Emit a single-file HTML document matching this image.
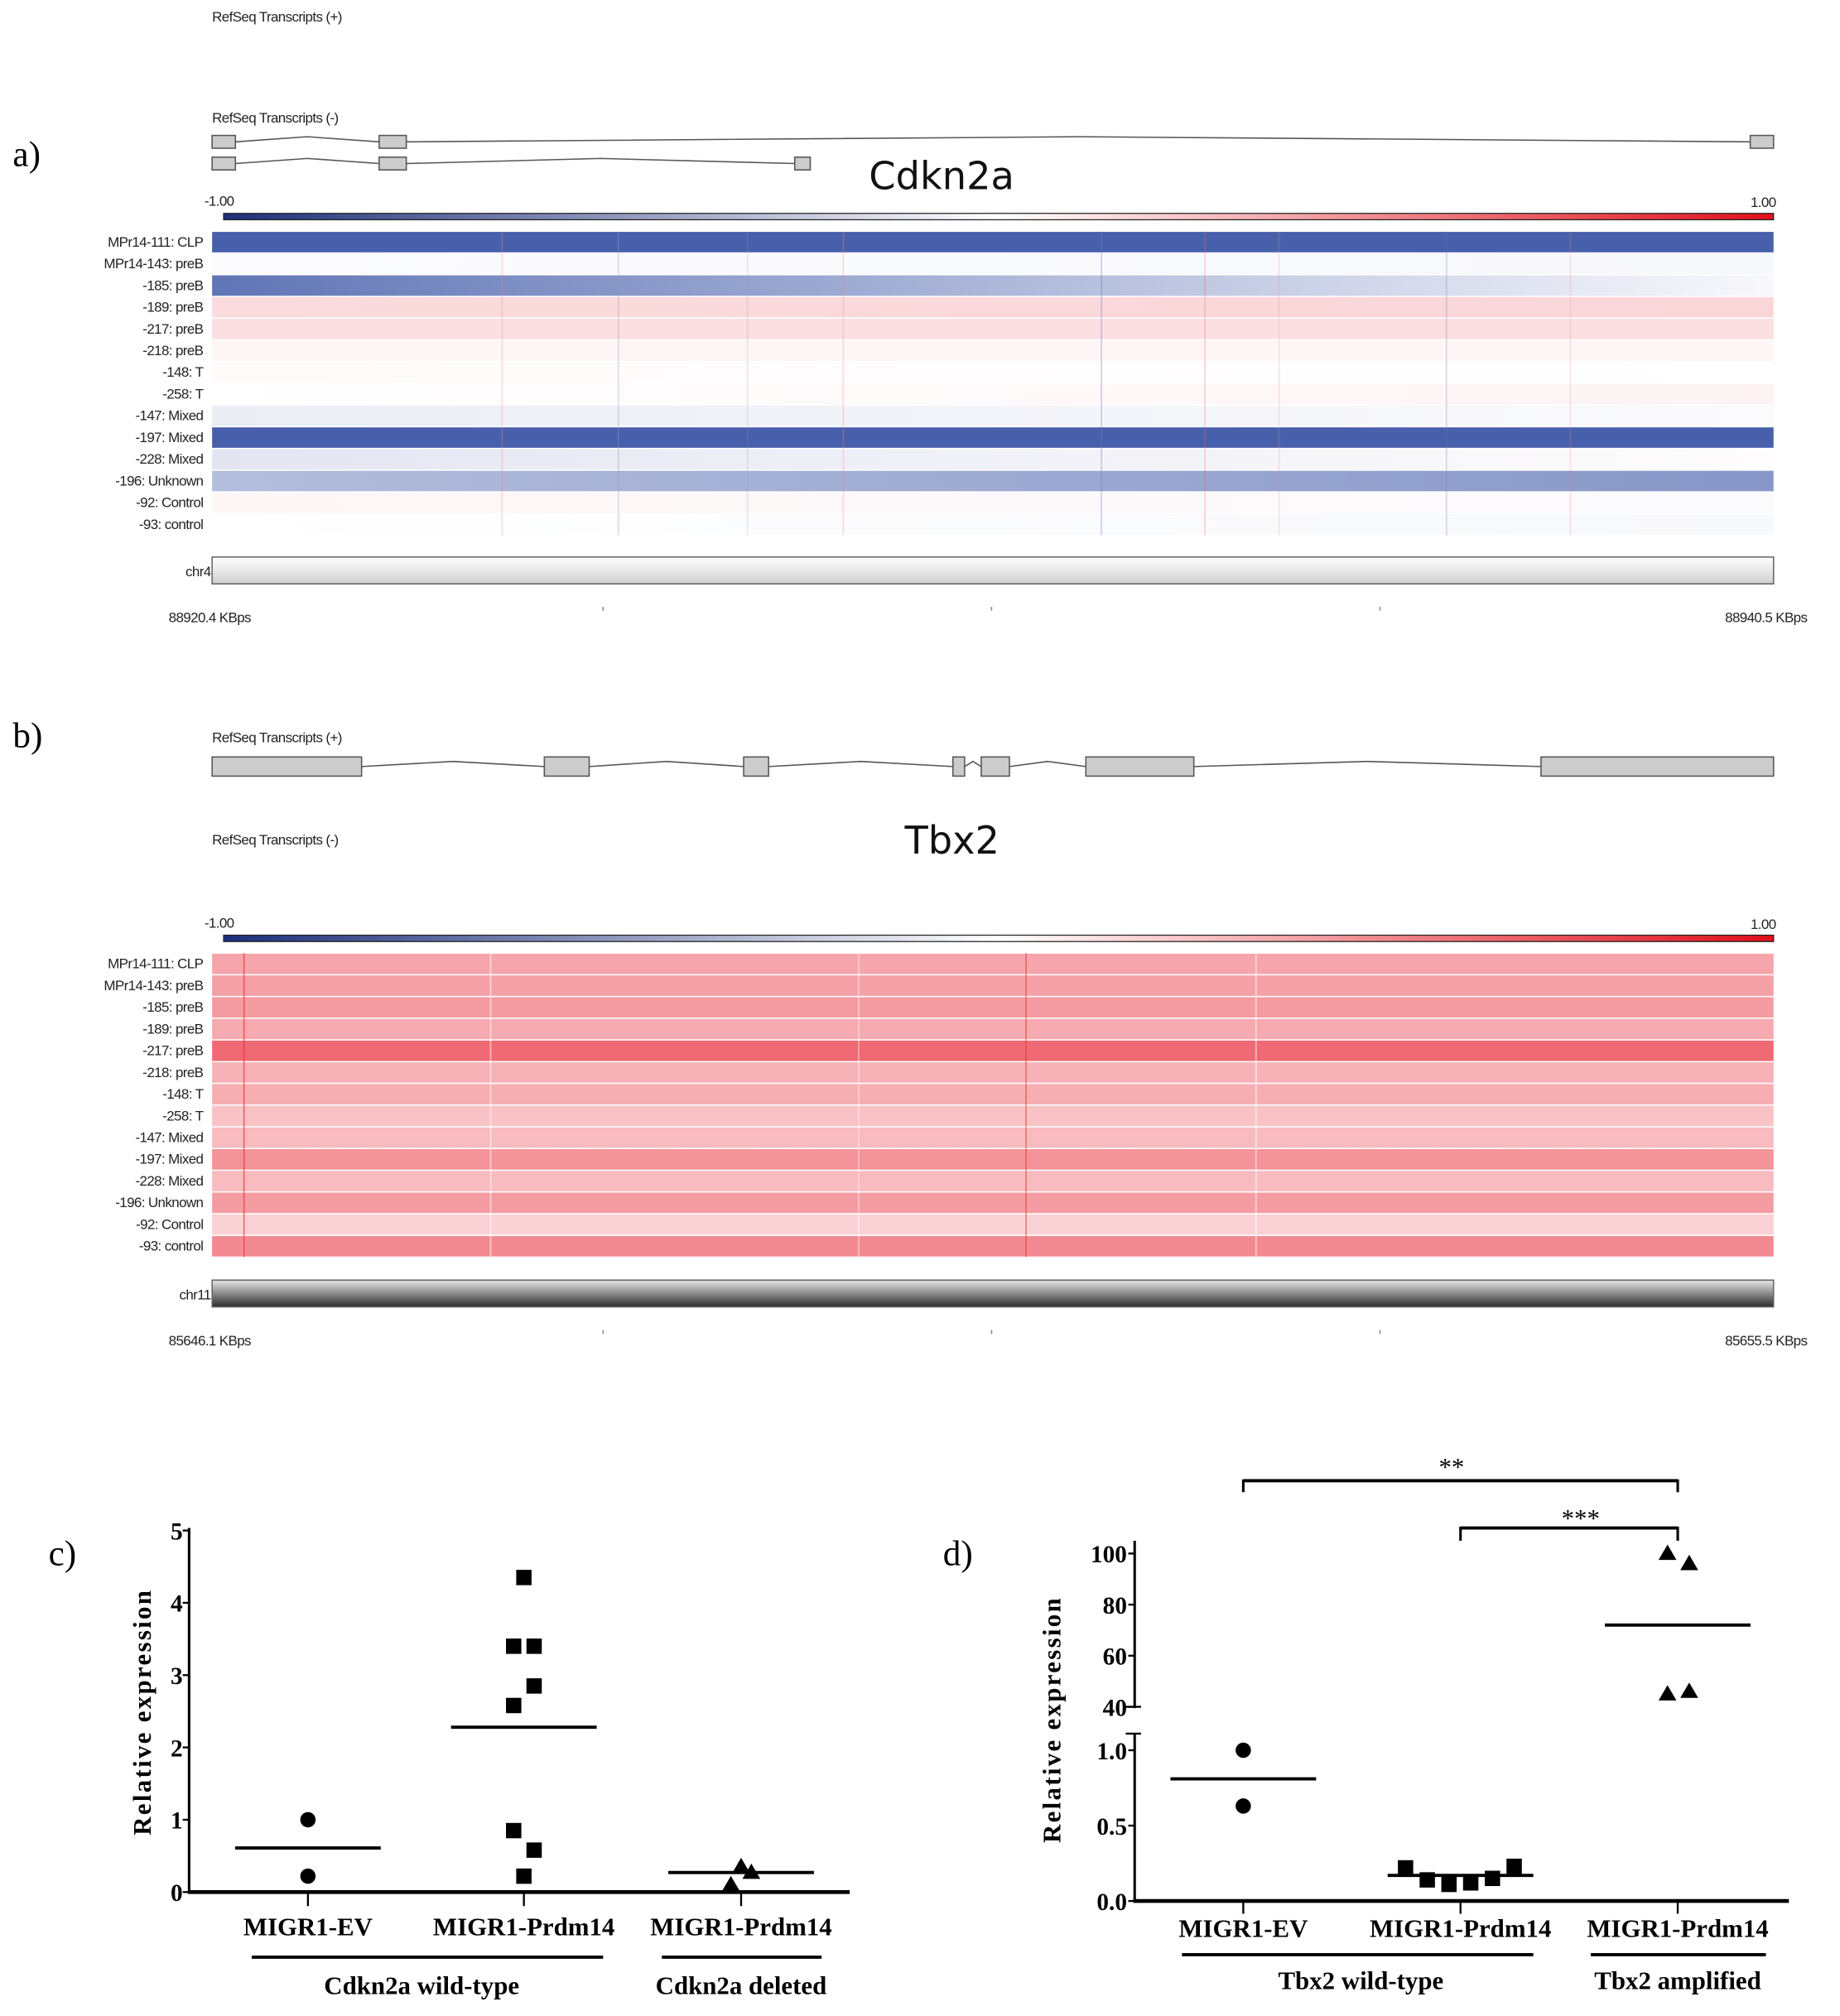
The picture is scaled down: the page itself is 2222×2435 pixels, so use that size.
<!DOCTYPE html>
<html><head><meta charset="utf-8"><style>
html,body{margin:0;padding:0;background:#fff;}
svg{display:block;}
.sm{font-family:"Liberation Sans",sans-serif;font-size:11px;fill:#222;letter-spacing:-0.4px;}
.ser{font-family:"Liberation Serif",serif;fill:#000;}
</style></head><body>
<svg id="fig" xmlns="http://www.w3.org/2000/svg" width="2222" height="2435" viewBox="0 0 1440 1578">
<defs>
<linearGradient id="cbar" x1="0" x2="1"><stop offset="0" stop-color="#1c2f7a"/><stop offset="0.5" stop-color="#ffffff"/><stop offset="1" stop-color="#e0101a"/></linearGradient>
<linearGradient id="chr4g" x1="0" y1="0" x2="0" y2="1"><stop offset="0" stop-color="#ffffff"/><stop offset="1" stop-color="#cfcfcf"/></linearGradient>
<linearGradient id="chr11g" x1="0" y1="0" x2="0" y2="1"><stop offset="0" stop-color="#e8e8e8"/><stop offset="0.5" stop-color="#8a8a8a"/><stop offset="1" stop-color="#2a2a2a"/></linearGradient>
</defs>
<g id="panelA"></g>
<g id="panelB"></g>
<g id="panelC"></g>
<g id="panelD"></g>
</svg>
<script>
// ---- data ----
const sampleLabels = ["MPr14-111: CLP","MPr14-143: preB","-185: preB","-189: preB","-217: preB","-218: preB","-148: T","-258: T","-147: Mixed","-197: Mixed","-228: Mixed","-196: Unknown","-92: Control","-93: control"];
// Cdkn2a log-ratio values at left and right ends of each row (-1..1)
const cdknLeft  = [-0.92,-0.02,-0.80,0.16,0.14,0.04,0.02,0.0,-0.10,-0.92,-0.14,-0.38,0.04,0.0];
const cdknRight = [-0.92,-0.04,-0.03,0.18,0.14,0.04,0.0,0.05,-0.02,-0.92,0.01,-0.60,-0.02,-0.04];
// Tbx2 log-ratio values per row
const tbxVals = [0.40,0.42,0.44,0.38,0.66,0.34,0.36,0.27,0.30,0.48,0.30,0.44,0.20,0.52];
const cdknExonsTop = [[88920.4,88920.7],[88922.55,88922.9],[88940.2,88940.5]];
const cdknExonsBot = [[88920.4,88920.7],[88922.55,88922.9],[88927.9,88928.1]];
const tbxExons = [[85646.1,85647.0],[85648.1,85648.37],[85649.3,85649.45],[85650.56,85650.63],[85650.73,85650.9],[85651.36,85652.01],[85654.1,85655.5]];
// panel c
const cCats = ["MIGR1-EV","MIGR1-Prdm14","MIGR1-Prdm14"];
const cEV = [1.0,0.22];
const cPrdm = [4.35,3.4,3.4,2.85,2.58,0.85,0.58,0.22];
const cDel = [0.35,0.27,0.1];
const cMeans = [0.61,2.28,0.27];
const cTicks = [0,1,2,3,4,5];
// panel d
const dEV = [1.0,0.63];
const dPrdm = [0.22,0.14,0.11,0.12,0.15,0.23];
const dAmp = [100,96,45,46];
const dMeans = [0.81,0.17,72];
const dTicksHi = [40,60,80,100];
const dTicksLo = ["0.0","0.5","1.0"];

const NS="http://www.w3.org/2000/svg";
function mk(p,tag,at,txt){const e=document.createElementNS(NS,tag);for(const k in at)e.setAttribute(k,at[k]);if(txt!==undefined)e.textContent=txt;p.appendChild(e);return e;}
function col(v){ // -1 blue, 0 white, 1 red
  let r,g,b; if(v<0){const t=-v;r=255+(57-255)*t;g=255+(83-255)*t;b=255+(164-255)*t;}else{const t=v;r=255+(232-255)*t;g=255+(30-255)*t;b=255+(45-255)*t;}
  return `rgb(${r|0},${g|0},${b|0})`;}
const X0=166,X1=1388;

function genome(g,opts){
  const sx=v=>X0+(v-opts.start)/(opts.end-opts.start)*(X1-X0);
  let t=mk(g,'text',{x:166,y:opts.plusY,class:'sm'},'RefSeq Transcripts (+)');
  
  t=mk(g,'text',{x:166,y:opts.minusY,class:'sm'},'RefSeq Transcripts (-)');
  
  opts.tracks.forEach(tr=>{
    const ex=tr.exons;
    for(let i=0;i<ex.length-1;i++){const a=sx(ex[i][1]),b=sx(ex[i+1][0]);
      const l=mk(g,'polyline',{points:`${a},${tr.y} ${(a+b)/2},${tr.y-tr.bump} ${b},${tr.y}`,fill:'none',stroke:'#555','stroke-width':1});
      }
    ex.forEach(e=>{const r=mk(g,'rect',{x:sx(e[0]),y:tr.y-tr.h/2,width:Math.max(sx(e[1])-sx(e[0]),8),height:tr.h,fill:'#cccccc',stroke:'#555','stroke-width':1});
      });
  });
  t=mk(g,'text',{x:opts.geneX,y:opts.geneY,'font-family':'"DejaVu Sans",sans-serif','font-size':30,fill:'#111'},opts.gene);
  
  t=mk(g,'text',{x:160,y:opts.barY-6,class:'sm'},'-1.00');
  t=mk(g,'text',{x:1370,y:opts.barY-5,class:'sm'},'1.00');
  let r=mk(g,'rect',{x:175,y:opts.barY,width:1213,height:5,fill:'url(#cbar)',stroke:'#222','stroke-width':0.8});
  
  const top=opts.hmTop,rh=17;
  sampleLabels.forEach((lab,i)=>{
    const y=top+i*rh;
    const id='hg'+opts.key+i;
    const lg=mk(g,'linearGradient',{id:id,x1:0,x2:1});
    mk(lg,'stop',{offset:0,'stop-color':col(opts.left[i])});mk(lg,'stop',{offset:1,'stop-color':col(opts.right[i])});
    const c=mk(g,'rect',{x:X0,y:y+0.5,width:X1-X0,height:rh-1,fill:`url(#${id})`});
    
    const tl=mk(g,'text',{x:159,y:y+12,class:'sm','text-anchor':'end'},lab);
    
  });
  opts.vlines.forEach(v=>{const l=mk(g,'line',{x1:v[0],x2:v[0],y1:top,y2:top+rh*14,stroke:v[1],'stroke-width':1.2,opacity:v[2]});
    });
  r=mk(g,'rect',{x:X0,y:opts.chrY,width:X1-X0,height:21,fill:opts.chrFill,stroke:'#666','stroke-width':1});
  
  t=mk(g,'text',{x:X0-1,y:opts.chrY+15,class:'sm','text-anchor':'end'},opts.chr);
  [472,776,1080].forEach(x=>{const l=mk(g,'line',{x1:x,x2:x,y1:opts.chrY+39,y2:opts.chrY+42,stroke:'#888'});});
  t=mk(g,'text',{x:132,y:opts.chrY+51,class:'sm'},opts.startLab);
  t=mk(g,'text',{x:1350,y:opts.chrY+51,class:'sm'},opts.endLab);
  t=mk(g,'text',{x:10,y:opts.letterY,class:'ser','font-size':28},opts.letter);
}

genome(document.getElementById('panelA'),{key:'a',start:88920.4,end:88940.5,plusY:17,minusY:96,
  tracks:[{exons:cdknExonsTop,y:111,h:10,bump:4},{exons:cdknExonsBot,y:128,h:10,bump:4}],
  gene:'Cdkn2a',geneX:680,geneY:148,barY:167,hmTop:181,left:cdknLeft,right:cdknRight,
  vlines:[[393,'#e88',0.25],[484,'#99b',0.3],[585,'#99b',0.2],[660,'#e88',0.25],[862,'#77a',0.3],[943,'#e66',0.25],[1001,'#e88',0.2],[1132,'#77a',0.25],[1229,'#e88',0.2]],
  chrY:436,chrFill:'url(#chr4g)',chr:'chr4',startLab:'88920.4 KBps',endLab:'88940.5 KBps',letter:'a)',letterY:130});
genome(document.getElementById('panelB'),{key:'b',start:85646.1,end:85655.5,plusY:581,minusY:661,
  tracks:[{exons:tbxExons,y:600,h:15,bump:4}],
  gene:'Tbx2',geneX:708,geneY:668,barY:732,hmTop:746,left:tbxVals,right:tbxVals,
  vlines:[[191,'#e33',0.6],[384,'#fff',0.5],[672,'#fff',0.4],[803,'#e33',0.5],[983,'#fff',0.5]],
  chrY:1002,chrFill:'url(#chr11g)',chr:'chr11',startLab:'85646.1 KBps',endLab:'85655.5 KBps',letter:'b)',letterY:585});

// ---- dot plots ----
function marker(g,shape,x,y){
  let e;
  if(shape==='circle')e=mk(g,'circle',{cx:x,cy:y,r:6,fill:'#000'});
  else if(shape==='square')e=mk(g,'rect',{x:x-6,y:y-6,width:12,height:12,fill:'#000'});
  else e=mk(g,'polygon',{points:`${x},${y-7} ${x+7},${y+5} ${x-7},${y+5}`,fill:'#000'});
  
}
function meanLine(g,x,y){const l=mk(g,'line',{x1:x-57,x2:x+57,y1:y,y2:y,stroke:'#000','stroke-width':2.5});
  }
function txt(g,x,y,s,size,anchor,name,extra){const t=mk(g,'text',Object.assign({x:x,y:y,class:'ser','font-size':size,'text-anchor':anchor,'font-weight':'bold'},extra||{}),s);
  return t;}
function hline(g,x1,x2,y,w,name){const l=mk(g,'line',{x1:x1,x2:x2,y1:y,y2:y,stroke:'#000','stroke-width':w});}
function vline(g,x,y1,y2,w,name){const l=mk(g,'line',{x1:x,x2:x,y1:y1,y2:y2,stroke:'#000','stroke-width':w});}

(function(){
  const g=document.getElementById('panelC');
  const ys=v=>1481-v*56.6; const cx=[241,410,580];
  txt(g,38,1225,'c)',28,'start','panel-letter',{'font-weight':'normal'});
  vline(g,148,1196,1482,2,'y-axis');hline(g,147,665,1481,3,'x-axis');
  cTicks.forEach(v=>{hline(g,143,148,ys(v),1.5,'y-tick');txt(g,143,ys(v)+7,String(v),19,'end','y-tick-label');});
  txt(g,0,0,'Relative expression',20,'middle','y-axis-title',{transform:'translate(118,1340) rotate(-90)','letter-spacing':'1.5'});
  cx.forEach((x,i)=>{vline(g,x,1481,1492,1.5,'x-tick');txt(g,x,1515,cCats[i],20,'middle','category-label');});
  cEV.forEach(v=>marker(g,'circle',cx[0],ys(v)));
  const po=[0,-8,8,8,-8,-8,8,0];cPrdm.forEach((v,i)=>marker(g,'square',cx[1]+po[i],ys(v)));
  const dO=[0,8,-8];cDel.forEach((v,i)=>marker(g,'triangle',cx[2]+dO[i],ys(v)));
  cMeans.forEach((m,i)=>meanLine(g,cx[i],ys(m)));
  hline(g,197,472,1532,2.5,'group-line');hline(g,518,643,1532,2.5,'group-line');
  txt(g,330,1561,'Cdkn2a wild-type',20,'middle','group-label');txt(g,580,1561,'Cdkn2a deleted',20,'middle','group-label');
})();
(function(){
  const g=document.getElementById('panelD');
  const yHi=v=>1336-(v-40)*2, yLo=v=>1488-v*118; const cx=[973,1143,1313];
  txt(g,738,1225,'d)',28,'start','panel-letter',{'font-weight':'normal'});
  vline(g,888,1206,1337,2,'y-axis-upper');vline(g,888,1357,1489,2,'y-axis-lower');
  hline(g,881,893,1336,1.5,'axis-break');hline(g,881,893,1357,1.5,'axis-break');
  hline(g,887,1400,1488,3,'x-axis');
  dTicksHi.forEach(v=>{hline(g,883,888,yHi(v),1.5,'y-tick');txt(g,882,yHi(v)+7,String(v),19,'end','y-tick-label');});
  dTicksLo.forEach(s=>{const v=parseFloat(s);hline(g,883,888,yLo(v),1.5,'y-tick');txt(g,882,yLo(v)+7,s,19,'end','y-tick-label');});
  txt(g,0,0,'Relative expression',20,'middle','y-axis-title',{transform:'translate(830,1346) rotate(-90)','letter-spacing':'1.5'});
  cx.forEach((x,i)=>{vline(g,x,1488,1498,1.5,'x-tick');txt(g,x,1516,cCats[i],20,'middle','category-label');});
  dEV.forEach(v=>marker(g,'circle',cx[0],yLo(v)));
  dPrdm.forEach((v,i)=>marker(g,'square',1100+i*17,yLo(v)));
  const ao=[-8,9,-8,9];dAmp.forEach((v,i)=>marker(g,'triangle',cx[2]+ao[i],yHi(v)));
  meanLine(g,cx[0],yLo(dMeans[0]));meanLine(g,cx[1],yLo(dMeans[1]));meanLine(g,cx[2],yHi(dMeans[2]));
  hline(g,973,1313,1159,2.5,'bracket-ev-amp');vline(g,973,1158,1168,2,'bracket-ev-amp');vline(g,1313,1158,1168,2,'bracket-ev-amp');
  txt(g,1136,1155,'**',20,'middle','significance-label',{'font-weight':'normal'});
  hline(g,1143,1313,1196,2.5,'bracket-prdm-amp');vline(g,1143,1195,1206,2,'bracket-prdm-amp');vline(g,1313,1195,1206,2,'bracket-prdm-amp');
  txt(g,1237,1195,'***',20,'middle','significance-label',{'font-weight':'normal'});
  hline(g,925,1200,1530,2.5,'group-line');hline(g,1245,1382,1530,2.5,'group-line');
  txt(g,1065,1557,'Tbx2 wild-type',20,'middle','group-label');txt(g,1313,1557,'Tbx2 amplified',20,'middle','group-label');
})();
</script>
</body></html>
